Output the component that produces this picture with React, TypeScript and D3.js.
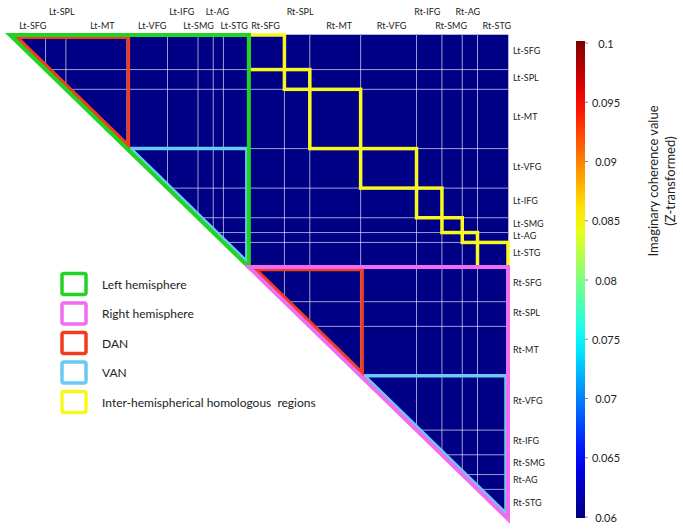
import React from "react";
import * as d3 from "d3";

// ---------- DATA ----------
const regions = [
  "Lt-SFG", "Lt-SPL", "Lt-MT", "Lt-VFG", "Lt-IFG", "Lt-SMG", "Lt-AG", "Lt-STG",
  "Rt-SFG", "Rt-SPL", "Rt-MT", "Rt-VFG", "Rt-IFG", "Rt-SMG", "Rt-AG", "Rt-STG",
];
// number of channels in each region (block sizes)
const channels = [7, 4, 12, 8, 6, 3, 2, 5, 7, 5, 10, 11, 5, 4, 3, 6];

// block-averaged imaginary coherence (upper triangle, row i holds columns i..15)
const coherence: number[][] = [
  [0.0603, 0.0603, 0.0603, 0.0603, 0.0603, 0.0603, 0.0603, 0.0603, 0.0603, 0.0603, 0.0603, 0.0603, 0.0603, 0.0603, 0.0603, 0.0603],
  [0.0603, 0.0603, 0.0603, 0.0603, 0.0603, 0.0603, 0.0603, 0.0603, 0.0603, 0.0603, 0.0603, 0.0603, 0.0603, 0.0603, 0.0603],
  [0.0603, 0.0603, 0.0603, 0.0603, 0.0603, 0.0603, 0.0603, 0.0603, 0.0603, 0.0603, 0.0603, 0.0603, 0.0603, 0.0603],
  [0.0603, 0.0603, 0.0603, 0.0603, 0.0603, 0.0603, 0.0603, 0.0603, 0.0603, 0.0603, 0.0603, 0.0603, 0.0603],
  [0.0603, 0.0603, 0.0603, 0.0603, 0.0603, 0.0603, 0.0603, 0.0603, 0.0603, 0.0603, 0.0603, 0.0603],
  [0.0603, 0.0603, 0.0603, 0.0603, 0.0603, 0.0603, 0.0603, 0.0603, 0.0603, 0.0603, 0.0603],
  [0.0603, 0.0603, 0.0603, 0.0603, 0.0603, 0.0603, 0.0603, 0.0603, 0.0603, 0.0603],
  [0.0603, 0.0603, 0.0603, 0.0603, 0.0603, 0.0603, 0.0603, 0.0603, 0.0603],
  [0.0603, 0.0603, 0.0603, 0.0603, 0.0603, 0.0603, 0.0603, 0.0603],
  [0.0603, 0.0603, 0.0603, 0.0603, 0.0603, 0.0603, 0.0603],
  [0.0603, 0.0603, 0.0603, 0.0603, 0.0603, 0.0603],
  [0.0603, 0.0603, 0.0603, 0.0603, 0.0603],
  [0.0603, 0.0603, 0.0603, 0.0603],
  [0.0603, 0.0603, 0.0603],
  [0.0603, 0.0603],
  [0.0603],
];

const colorDomain = [0.06, 0.1];
const colorTicks = [0.06, 0.065, 0.07, 0.075, 0.08, 0.085, 0.09, 0.095, 0.1];
const colorbarTitle = ["Imaginary coherence value", "(Z-transformed)"];

const legendLabels = [
  "Left hemisphere",
  "Right hemisphere",
  "DAN",
  "VAN",
  "Inter-hemispherical homologous  regions",
];

// ---------- STYLE / LAYOUT ----------
const W = 683;
const H = 530;
const FONT = "Lato, 'Open Sans', sans-serif";
const C_GREEN = "#22d422";
const C_PINK = "#f06cf0";
const C_RED = "#f23c1c";
const C_CYAN = "#6cc8f5";
const C_YELLOW = "#f8f820";
const legendColors = [C_GREEN, C_PINK, C_RED, C_CYAN, C_YELLOW];
const upperRowLocal = new Set([1, 4, 6]);
// horizontal nudges of the top labels (layout only)
const topLabelNudge = [5, 6, 6, 5, -1, -7, -1, -2, -1, 3, 4, 3, -2, -1, -2, 4];

function jet(t: number): string {
  const c = (v: number) => Math.max(0, Math.min(1, v));
  const r = c(1.5 - Math.abs(4 * t - 3));
  const g = c(1.5 - Math.abs(4 * t - 2));
  const b = c(1.5 - Math.abs(4 * t - 1));
  return d3.rgb(r * 255, g * 255, b * 255).formatHex();
}

export default function App() {
  const total = d3.sum(channels);
  const cum = [0, ...d3.cumsum(channels)];
  const x0 = 10, xR = 508, y0 = 35, yB = 519;
  const xs = d3.scaleLinear().domain([0, total]).range([x0, xR]);
  const ys = d3.scaleLinear().domain([0, total]).range([y0, yB]);
  const slope = (yB - y0) / (xR - x0);

  const cNorm = d3.scaleLinear().domain(colorDomain).range([0, 1]).clamp(true);
  const color = (v: number) => jet(cNorm(v));

  const n = regions.length;
  const cells: JSX.Element[] = [];
  for (let i = 0; i < n; i++) {
    for (let j = i; j < n; j++) {
      const v = coherence[i][j - i];
      const xa = xs(cum[j]), xb = xs(cum[j + 1]);
      const ya = ys(cum[i]), yb = ys(cum[i + 1]);
      if (i === j) {
        cells.push(
          <polygon key={`c${i}-${j}`} points={`${xa},${ya} ${xb},${ya} ${xb},${yb}`} fill={color(v)} stroke={color(v)} strokeWidth={0.6} />
        );
      } else {
        cells.push(
          <rect key={`c${i}-${j}`} x={xa} y={ya} width={xb - xa} height={yb - ya} fill={color(v)} stroke={color(v)} strokeWidth={0.6} />
        );
      }
    }
  }

  const grid: JSX.Element[] = [];
  for (let k = 1; k < n; k++) {
    grid.push(<line key={`v${k}`} x1={xs(cum[k])} x2={xs(cum[k])} y1={y0} y2={ys(cum[k])} stroke="#ffffff" strokeOpacity={0.6} strokeWidth={1} />);
    grid.push(<line key={`h${k}`} x1={xs(cum[k])} x2={xR} y1={ys(cum[k])} y2={ys(cum[k])} stroke="#ffffff" strokeOpacity={0.6} strokeWidth={1} />);
  }

  // triangle outline for block range [a..b], with inset parameters
  const tri = (a: number, b: number, top: number, right: number, shift: number) => {
    const xa = xs(cum[a]), ya = ys(cum[a]);
    const xb = xs(cum[b + 1]), yb = ys(cum[b + 1]);
    const p1 = [xa + (top + shift) / slope, ya + top];
    const p2 = [xb + right, ya + top];
    const p3 = [xb + right, yb + slope * right - shift];
    return `${p1.join(",")} ${p2.join(",")} ${p3.join(",")}`;
  };

  const yellow = d3.range(8).map((i) => (
    <rect key={`y${i}`} x={xs(cum[8 + i])} y={ys(cum[i])} width={xs(cum[9 + i]) - xs(cum[8 + i])} height={ys(cum[i + 1]) - ys(cum[i])} fill="none" stroke={C_YELLOW} strokeWidth={3.5} />
  ));

  const cScale = d3.scaleLinear().domain(colorDomain).range([517, 43]);
  const gradStops = d3.range(0, 1.0001, 0.05);

  return (
    <svg width={W} height={H} style={{ position: "absolute", left: 0, top: 0, display: "block", background: "#fff" }} fontFamily={FONT}>
      <defs>
        <linearGradient id="jetGrad" x1="0" y1="1" x2="0" y2="0">
          {gradStops.map((t) => (
            <stop key={t} offset={t} stopColor={jet(t)} />
          ))}
        </linearGradient>
      </defs>

      {cells}
      {grid}
      {yellow}

      <polygon points={tri(3, 7, 0, -2, 3.5)} fill="none" stroke={C_CYAN} strokeWidth={3.5} />
      <polygon points={tri(11, 15, 0, -2, 3.5)} fill="none" stroke={C_CYAN} strokeWidth={3.5} />
      <polygon points={tri(0, 2, 2.3, 1.5, 4.5)} fill="none" stroke={C_RED} strokeWidth={3.5} />
      <polygon points={tri(8, 10, 2.3, 1.5, 4.5)} fill="none" stroke={C_RED} strokeWidth={3.5} />
      <polygon points={tri(0, 7, 0, 0, 0)} fill="none" stroke={C_GREEN} strokeWidth={4} />
      <polygon points={tri(8, 15, 0, 0, 0)} fill="none" stroke={C_PINK} strokeWidth={4} />

      {/* top labels */}
      {regions.map((r, i) => {
        const local = i % 8;
        const cx = (xs(cum[i]) + xs(cum[i + 1])) / 2 + topLabelNudge[i];
        return (
          <text key={`t${r}`} x={cx} y={upperRowLocal.has(local) ? 15 : 29} textAnchor="middle" fontSize={9} fill="#222">
            {r}
          </text>
        );
      })}
      {/* right labels */}
      {regions.map((r, i) => {
        const cy = (ys(cum[i]) + ys(cum[i + 1])) / 2 - 2;
        return (
          <text key={`r${r}`} x={513} y={cy} dominantBaseline="central" fontSize={9} fill="#222">
            {r}
          </text>
        );
      })}

      {/* legend */}
      {legendLabels.map((l, i) => {
        const cy = 284 + i * 29.5;
        return (
          <g key={`l${i}`}>
            <rect x={62} y={cy - 10.5} width={24} height={21} rx={2} fill="none" stroke={legendColors[i]} strokeWidth={3.5} />
            <text x={102} y={cy} dominantBaseline="central" fontSize={12} fill="#222" style={{ whiteSpace: "pre" }}>
              {l}
            </text>
          </g>
        );
      })}

      {/* colorbar */}
      <rect x={576} y={cScale(0.1) - 2} width={9} height={cScale(0.06) - cScale(0.1) + 3} fill="url(#jetGrad)" />
      {colorTicks.map((v) => (
        <g key={`ct${v}`}>
          <line x1={585} x2={588} y1={cScale(v)} y2={cScale(v)} stroke="#888" strokeWidth={1} />
          <text x={606} y={cScale(v)} textAnchor="middle" dominantBaseline="central" fontSize={11} fill="#222">
            {String(+v.toFixed(3))}
          </text>
        </g>
      ))}
      <g transform="translate(661,181) rotate(-90)">
        <text x={0} y={-8} textAnchor="middle" dominantBaseline="central" fontSize={13} fill="#222">
          {colorbarTitle[0]}
        </text>
        <text x={0} y={9} textAnchor="middle" dominantBaseline="central" fontSize={13} fill="#222">
          {colorbarTitle[1]}
        </text>
      </g>
    </svg>
  );
}
